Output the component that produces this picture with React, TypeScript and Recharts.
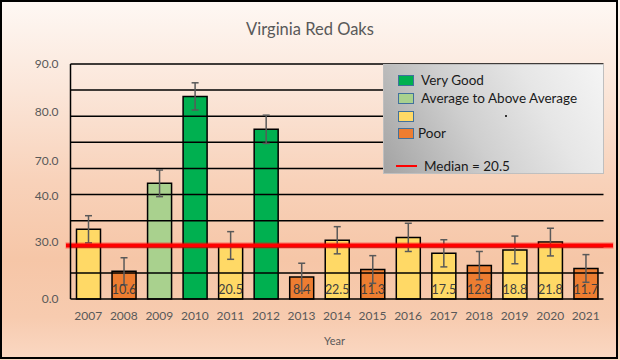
import { BarChart, Bar, XAxis, YAxis, ReferenceLine, ErrorBar, LabelList, Cell } from 'recharts';

const years = ['2007', '2008', '2009', '2010', '2011', '2012', '2013', '2014', '2015', '2016', '2017', '2018', '2019', '2020', '2021'];
const acorns = [26.7, 10.6, 44.3, 77.6, 20.5, 65.0, 8.4, 22.5, 11.3, 23.6, 17.5, 12.8, 18.8, 21.8, 11.7];
const errors = [5.2, 5.2, 5.1, 5.2, 5.3, 5.4, 5.3, 5.2, 5.3, 5.4, 5.2, 5.4, 5.3, 5.3, 5.3];
const ratings = ['fair', 'poor', 'avg', 'vgood', 'fair', 'vgood', 'poor', 'fair', 'poor', 'fair', 'fair', 'poor', 'fair', 'fair', 'poor'];
const barLabels = ['', '10.6', '', '', '20.5', '', '8.4', '22.5', '11.3', '', '17.5', '12.8', '18.8', '21.8', '11.7'];

const median = 20.5;
const gridValues = [10, 20, 30, 40, 50, 60, 70, 80, 90];
// the axis labels sit at odd spots in the original, text kept as printed
const yTickValues = [0, 21.8, 39.5, 52.9, 71.6, 90];
const yTickLabels = ['0.0', '30.0', '40.0', '70.0', '80.0', '90.0'];

const legendKeys = ['vgood', 'avg', 'fair', 'poor'];
const legendNames = ['Very Good', 'Average to Above Average', '', 'Poor'];

const colors: Record<string, string> = {
  vgood: '#00B050',
  avg: '#A9D18E',
  fair: '#FFD966',
  poor: '#ED7D31',
};

const data = years.map((year, i) => ({
  year,
  value: acorns[i],
  err: errors[i],
  rating: ratings[i],
  label: barLabels[i],
}));

const FONT = 'Lato, "Liberation Sans", sans-serif';

const BarValue = (props: any) => {
  const { x, y, width, height, value } = props;
  if (!value) return null;
  return (
    <text
      x={x + width / 2}
      y={y + height - 5.5}
      textAnchor="middle"
      fill="#404040"
      fontSize={12.5}
      fontFamily={FONT}
    >
      {value}
    </text>
  );
};

const MedianLine = (props: any) => {
  const { x1, x2, y1 } = props;
  if (x1 == null) return null;
  return (
    <g>
      <line x1={x1 - 5} x2={x2 + 10} y1={y1} y2={y1} stroke="#FF0000" strokeOpacity={0.3} strokeWidth={6.5} />
      <line x1={x1 - 4.5} x2={x2 + 9.5} y1={y1} y2={y1} stroke="#FF0000" strokeWidth={4} />
    </g>
  );
};

const Legend = () => (
  <div
    style={{
      position: 'absolute',
      left: 383,
      top: 64,
      width: 221,
      height: 110,
      boxSizing: 'border-box',
      border: '1px solid #BFBFBF',
      background: 'linear-gradient(60deg, #a3a3a3 0%, #cfcfcf 40%, #e6e6e6 70%, #f5f5f5 100%)',
      fontFamily: FONT,
      fontSize: 13.5,
      color: '#1a1a1a',
    }}
  >
    {legendKeys.map((k, i) => (
      <div key={k} style={{ position: 'absolute', left: 14, top: 9 + i * 17.8, height: 13, display: 'flex', alignItems: 'center' }}>
        <div style={{ width: 16, height: 11, background: colors[k], border: '1px solid #41719C', boxSizing: 'border-box' }} />
        <span style={{ marginLeft: k === 'poor' ? 4 : 7, lineHeight: '13px' }}>{legendNames[i]}</span>
      </div>
    ))}
    <div style={{ position: 'absolute', left: 121, top: 50, width: 1.5, height: 1.5, background: '#333' }} />
    <div style={{ position: 'absolute', left: 12, top: 94, height: 14, display: 'flex', alignItems: 'center' }}>
      <div style={{ width: 21, height: 2.5, background: '#FF0000' }} />
      <span style={{ marginLeft: 7, lineHeight: '14px' }}>Median = {median}</span>
    </div>
  </div>
);

export default function App() {
  return (
    <div
      style={{
        position: 'absolute',
        left: 0,
        top: 0,
        width: 620,
        height: 360,
        background: 'linear-gradient(180deg, #FEF8F4 0%, #FBE6D9 25%, #F8D2BA 50%, #F6C6A7 72%, #F7CBAF 88%, #FAD8C3 100%)',
      }}
    >
      <div
        style={{
          position: 'absolute',
          left: 0,
          top: 0,
          width: 618,
          height: 359,
          boxSizing: 'border-box',
          border: '2px solid #000',
        }}
      />
      <div
        style={{
          position: 'absolute',
          left: 0,
          top: 19,
          width: 620,
          textAlign: 'center',
          fontFamily: FONT,
          fontSize: 16.5,
          color: '#595959',
        }}
      >
        Virginia Red Oaks
      </div>
      <div style={{ position: 'absolute', left: 0, top: 0 }}>
        <BarChart width={620} height={360} data={data} margin={{ top: 64, right: 16.5, bottom: 31, left: 0 }}>
          {gridValues.map((v) => (
            <ReferenceLine key={v} y={v} stroke="#000" strokeWidth={1.5} />
          ))}
          <XAxis
            dataKey="year"
            height={30}
            tickLine={false}
            tickSize={6}
            tickMargin={6}
            axisLine={{ stroke: '#000', strokeWidth: 1.5 }}
            tick={{ fill: '#595959', fontSize: 12, fontFamily: FONT }}
            interval={0}
          />
          <YAxis
            width={70.5}
            domain={[0, 90]}
            ticks={yTickValues}
            interval={0}
            tickFormatter={(v: number, i: number) => yTickLabels[i]}
            tickLine={false}
            tickSize={8}
            tickMargin={4}
            axisLine={{ stroke: '#000', strokeWidth: 1.5 }}
            tick={{ fill: '#595959', fontSize: 12, fontFamily: FONT }}
          />
          <YAxis
            yAxisId="frame"
            orientation="right"
            width={0}
            domain={[0, 90]}
            tick={false}
            tickLine={false}
            axisLine={{ stroke: '#000', strokeWidth: 1.5 }}
          />
          <Bar dataKey="value" barSize={24} stroke="#000" strokeWidth={1.5} isAnimationActive={false}>
            {data.map((d) => (
              <Cell key={d.year} fill={colors[d.rating]} />
            ))}
            <LabelList dataKey="label" content={BarValue} />
            <ErrorBar dataKey="err" width={3.5} stroke="#595959" strokeWidth={1.5} direction="y" />
          </Bar>
          <ReferenceLine y={median} shape={MedianLine} />
        </BarChart>
      </div>
      <Legend />
      <div
        style={{
          position: 'absolute',
          left: 324,
          top: 335,
          fontFamily: FONT,
          fontSize: 11,
          lineHeight: '12px',
          color: '#595959',
        }}
      >
        Year
      </div>
    </div>
  );
}
